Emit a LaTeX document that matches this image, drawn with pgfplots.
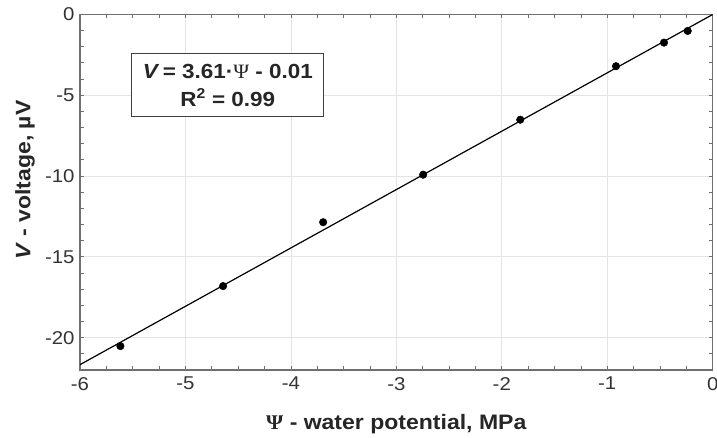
\documentclass[border=0pt]{standalone}
\usepackage{fontspec}
\setmainfont{Liberation Sans}[FakeStretch=1.1]
\newfontfamily\psifont{Liberation Serif}[FakeStretch=1.05]
\usepackage{pgfplots}
\pgfplotsset{compat=1.18}
\definecolor{axgray}{HTML}{707070}
\definecolor{gridgray}{HTML}{E4E4E4}
\definecolor{lbl}{HTML}{333333}
\pgfplotstableread{
x y
-5.617 -20.52
-4.643 -16.81
-3.694 -12.86
-2.746 -9.92
-1.825 -6.52
-0.917 -3.21
-0.462 -1.75
-0.237 -1.03
}\datatable
\begin{document}
\begin{tikzpicture}
\begin{axis}[
 scale only axis, width=632.7bp, height=355.7bp,
 xmin=-6, xmax=0, ymin=-22, ymax=0,
 xtick={-6,-5,-4,-3,-2,-1,0}, xticklabels={-6,-5,-4,-3,-2,-1,0},
 ytick={-20,-15,-10,-5,0}, yticklabels={-20,-15,-10,-5,0},
 minor xtick={-6,-5.75,...,0}, minor ytick={-22,-21,...,0},
 grid=major, major grid style={gridgray, line width=0.8bp},
 axis line style={axgray, line width=1.1bp},
 tick align=inside, tick pos=both, major tick length=4bp, minor tick length=4bp,
 every tick/.style={axgray, line width=0.7bp},
 ticklabel style={font=\fontsize{18.6}{20}\selectfont, text=lbl},
 yticklabel style={xshift=-2bp},
 xticklabel style={yshift=-3.6bp},
 xlabel={{\psifont\bfseries Ψ} \textbf{- water potential, MPa}},
 ylabel={\textbf{\textit{V} - voltage, µV}},
 xlabel style={font=\fontsize{21}{24}\selectfont, text=black!85,
   at={(axis description cs:0.5,0)}, anchor=center, yshift=-54bp},
 ylabel style={font=\fontsize{21}{24}\selectfont, text=black!85,
   at={([xshift=-55bp,yshift=12bp]axis description cs:0,0.5)}, anchor=center},
 clip=true,
]
\addplot[black, line width=1.2bp] coordinates {(-6,-21.67) (0,-0.01)};
\addplot[only marks, mark=*, mark size=3.8bp, black] table[x=x,y=y]{\datatable};
\node[draw=black!75, line width=0.9bp, fill=white, align=center, inner sep=0pt,
  font=\bfseries\fontsize{20.5}{28}\selectfont, text=black!85,
  minimum width=192bp, minimum height=63bp]
  at (axis cs:-4.598,-4.38) {\textit{V}\,= 3.61·{\psifont\mdseries Ψ} - 0.01\\R\textsuperscript{2} = 0.99};
\coordinate (SW) at (rel axis cs:0,0);
\coordinate (NE) at (rel axis cs:1,1);
\end{axis}
\pgfresetboundingbox
\path[use as bounding box] ([xshift=-80bp,yshift=-67bp]SW) rectangle ([xshift=4.3bp,yshift=14.3bp]NE);
\end{tikzpicture}
\end{document}
